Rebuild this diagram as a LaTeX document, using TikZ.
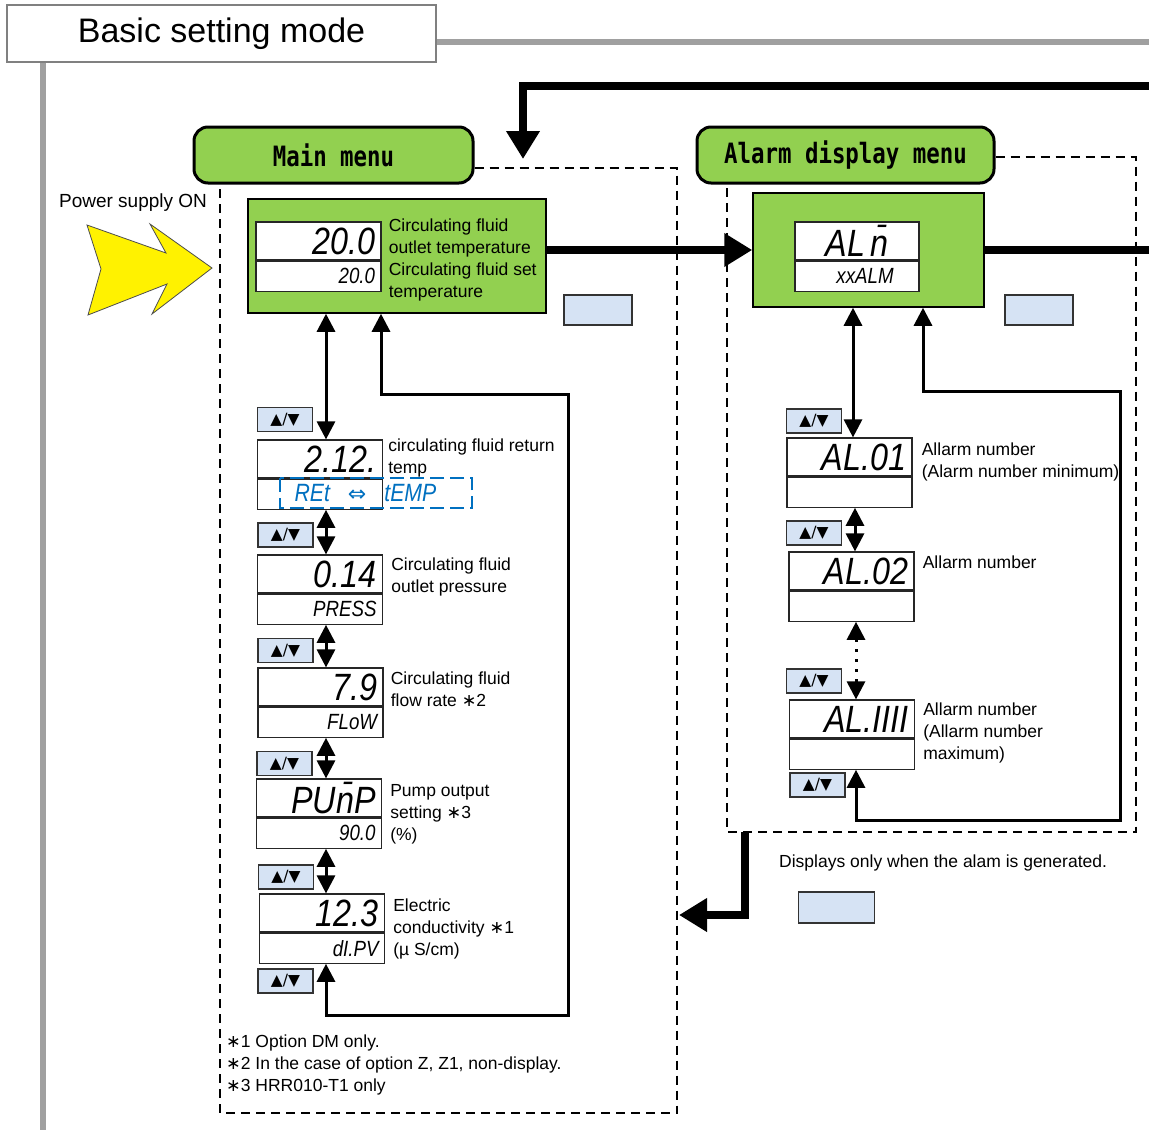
\documentclass[tikz,border=0pt]{standalone}
\usepackage{fontspec}
\usepackage{graphicx}
\setmainfont{Liberation Sans}
\newfontfamily\segfont{Liberation Sans}
\newfontfamily\menufont{DejaVu Sans Mono}
\newfontfamily\symfont{DejaVu Sans}
\usetikzlibrary{arrows.meta,positioning}
\definecolor{menugreen}{RGB}{146,208,80}
\definecolor{keyblue}{RGB}{214,227,244}
\definecolor{retblue}{RGB}{0,112,192}
\definecolor{framegray}{RGB}{160,160,160}
\newcommand{\segL}[1]{{\segfont\itshape\fontsize{38}{38}\selectfont\scalebox{0.85}[1]{#1}}}
\newcommand{\segS}[1]{{\segfont\itshape\fontsize{22}{22}\selectfont\scalebox{0.85}[1]{#1}}}
\newcommand{\segB}[1]{{\segfont\itshape\fontsize{25}{25}\selectfont\scalebox{0.85}[1]{#1}}}
\newcommand{\menutext}[1]{{\menufont\bfseries\fontsize{28}{28}\selectfont\scalebox{0.8}[1]{#1}}}
\newcommand{\nt}{{\symfont ∗}}
\begin{document}
\begin{tikzpicture}[x=1pt,y=-1pt,
  lbl/.style={anchor=north west,inner sep=0pt,align=left,font=\fontsize{17.5}{22}\selectfont},
  menubox/.style={draw,line width=3pt,fill=menugreen,rounded corners=14pt,minimum height=56pt},
  greenbox/.style={draw,line width=1.5pt,fill=menugreen},
  keybox/.style={draw=black!80,line width=1.2pt,fill=keyblue,minimum width=55pt,minimum height=24pt,inner sep=0pt,font=\symfont\fontsize{15.5}{15.5}\selectfont},
  segtop/.style={draw=black!85,line width=1.2pt,fill=white,minimum width=125pt,minimum height=38pt,inner sep=0pt},
  segbot/.style={segtop,minimum height=30pt},
  dashframe/.style={line width=1.5pt,dash pattern=on 9pt off 6pt},
  twoway/.style={line width=3pt,{Triangle[width=18pt,length=18pt]}-{Triangle[width=18pt,length=18pt]}},
  fat/.style={line width=8pt,-{Triangle[width=32pt,length=28pt]}}]
\useasboundingbox (0,0) rectangle (1149,1130);

% frame of the mode
\node[draw=gray,line width=1.2pt,fill=white,minimum width=429pt,minimum height=57pt,font=\fontsize{34}{34}\selectfont] (title) at (221.5,33.5) {Basic setting mode};
\draw[framegray,line width=6pt] (title.east |- 0,42) -- (1149,42);
\draw[framegray,line width=6pt] (title.south -| 43,0) -- (43,1130);

% menus
\node[menubox,minimum width=279pt] (mainmenu) at (333.5,155) {\menutext{Main menu}};
\node[menubox,minimum width=297pt] (almmenu) at (845.5,155) {\menutext{Alarm display menu}};
\draw[dashframe] (mainmenu.east |- 0,168) -- (677,168) -- (677,1113) -- (220,1113) -- (mainmenu.south -| 220,0);
\draw[dashframe] (almmenu.east |- 0,157) -- (1136,157) -- (1136,832) -- (727,832) -- (almmenu.south -| 727,0);

% power on
\node[font=\fontsize{19}{19}\selectfont] (power) at (133,203) {Power supply ON};
\draw[fill=yellow,draw=black!70,line width=0.8pt] (87,225) -- (166,253) -- (150,224) -- (212,268) -- (152,314) -- (167,284) -- (88,315) -- (101,269) -- cycle;

% main display
\node[greenbox,minimum width=298pt,minimum height=114pt] (mainbox) at (397,256) {};
\node[segtop] (m0-top) at (318.5,241) {};
\node[segbot,below=0pt of m0-top] (m0-bot) {};
\node[anchor=east] at ([xshift=-3pt]m0-top.east) {\segL{20.0}};
\node[anchor=east] at ([xshift=-3pt]m0-bot.east) {\segS{20.0}};
\node[lbl] at ([xshift=7pt,yshift=2.5pt]m0-top.north east) {Circulating fluid\\outlet temperature\\Circulating fluid set\\temperature};

% alarm display
\node[greenbox,minimum width=231pt,minimum height=114pt] (almbox) at (868.5,250) {};
\node[segtop,minimum width=124pt] (a0-top) at (857,241) {};
\node[segbot,minimum width=124pt,below=0pt of a0-top] (a0-bot) {};
\node at (a0-top) {\segL{AL\kern6pt\={n}}};
\node at ([xshift=8pt]a0-bot) {\segS{xxALM}};

% blank keys
\node[keybox,minimum width=68pt,minimum height=30pt] (mainkey) at (598,310) {};
\node[keybox,minimum width=68pt,minimum height=30pt] (almkey) at (1039,310) {};
\node[keybox,minimum width=76pt,minimum height=31pt] (retkey) at (836.5,907.5) {};

% up/down keys
\foreach \n/\x/\y in {k1/285/419.5,k2/285.5/535,k3/285.5/650.5,k4/284.5/763.5,k5/286/877,k6/285.5/981,q1/814/421,q2/814/533,q3/814/681,q4/817.5/785}
  \node[keybox] (\n) at (\x,\y) {▲/▼};

% item displays
\foreach \n/\x/\y in {d1/320/459,d2/320/574,d3/320.5/687,d4/319/798,d5/322/913,a1/849.5/457,a2/851.5/571,a3/852/719}
{
  \node[segtop] (\n-top) at (\x,\y) {};
  \node[segbot,below=0pt of \n-top] (\n-bot) {};
}
\node[anchor=east] at ([xshift=-3pt]d1-top.east) {\segL{2.12.}};
\node[anchor=east] at ([xshift=-3pt]d2-top.east) {\segL{0.14}};
\node[anchor=east] at ([xshift=-3pt]d2-bot.east) {\segS{PRESS}};
\node[anchor=east] at ([xshift=-3pt]d3-top.east) {\segL{7.9}};
\node[anchor=east] at ([xshift=-3pt]d3-bot.east) {\segS{FLoW}};
\node[anchor=east] at ([xshift=-3pt]d4-top.east) {\segL{PU\={n}P}};
\node[anchor=east] at ([xshift=-3pt]d4-bot.east) {\segS{90.0}};
\node[anchor=east] at ([xshift=-3pt]d5-top.east) {\segL{12.3}};
\node[anchor=east] at ([xshift=-3pt]d5-bot.east) {\segS{dI.PV}};
\node[anchor=east] at ([xshift=-3pt]a1-top.east) {\segL{AL.01}};
\node[anchor=east] at ([xshift=-3pt]a2-top.east) {\segL{AL.02}};
\node[anchor=east] at ([xshift=-3pt]a3-top.east) {\segL{AL.IIII}};
\draw[retblue,line width=2pt,dash pattern=on 14pt off 6pt] (280,478) rectangle (472,508);
\node[anchor=west,text=retblue] (ret) at (291,493) {\segB{REt}\hspace{18pt}{\symfont\fontsize{22}{22}\selectfont ⇔}\hspace{18pt}\segB{tEMP}};

\node[lbl] at ([xshift=5pt,yshift=1pt]d1-top.north east) {circulating fluid return\\temp};
\node[lbl] at ([xshift=8pt,yshift=-3.5pt]d2-top.north east) {Circulating fluid\\outlet pressure};
\node[lbl] at ([xshift=7pt,yshift=-4.5pt]d3-top.north east) {Circulating fluid\\flow rate \nt2};
\node[lbl] at ([xshift=8pt,yshift=-5.5pt]d4-top.north east) {Pump output\\setting \nt3\\(\%)};
\node[lbl] at ([xshift=8pt,yshift=-5.5pt]d5-top.north east) {Electric\\conductivity \nt1\\(µ S/cm)};
\node[lbl] at ([xshift=9pt,yshift=-5.5pt]a1-top.north east) {Allarm number\\(Alarm number minimum)};
\node[lbl] at ([xshift=8pt,yshift=-4.5pt]a2-top.north east) {Allarm number};
\node[lbl] at ([xshift=8pt,yshift=-3.5pt]a3-top.north east) {Allarm number\\(Allarm number\\maximum)};

% main menu arrows
\draw[twoway] (mainbox.south -| 326,0) -- (d1-top.north -| 326,0);
\foreach \u/\v in {d1/d2,d2/d3,d3/d4,d4/d5}
  \draw[twoway] (\u-bot.south -| 326,0) -- (\v-top.north -| 326,0);
\draw[twoway] (mainbox.south -| 381,0) -- (381,394) -- (568,394) -- (568,1015) -- (326,1015) -- (d5-bot.south -| 326,0);

% alarm menu arrows
\draw[twoway] (almbox.south -| 853,0) -- (a1-top.north -| 853,0);
\draw[twoway] (a1-bot.south -| 855,0) -- (a2-top.north -| 855,0);
\draw[twoway,dash pattern=on 3pt off 7pt] (a2-bot.south -| 856,0) -- (a3-top.north -| 856,0);
\draw[twoway] (almbox.south -| 923,0) -- (923,391) -- (1120,391) -- (1120,820) -- (856,820) -- (a3-bot.south -| 856,0);

% moves between menus
\coordinate (exitR) at (1149,250);
\coordinate (entryR) at (1149,86);
\coordinate (mainin) at (523,159);
\coordinate (almout) at (745,832);
\coordinate (mainret) at (679,915);
\draw[fat] (mainbox.east |- almbox.west) -- (almbox.west);
\draw[line width=8pt] (almbox.east) -- (exitR);
\draw[fat] (entryR) -- (mainin |- entryR) -- (mainin);
\draw[fat] (almout) -- (almout |- mainret) -- (mainret);

% notes
\node[lbl,anchor=west] (almnote) at (779,863) {Displays only when the alam is generated.};
\node[lbl] (notes) at (226,1035) {\nt1 Option DM only.\\\nt2 In the case of option Z, Z1, non-display.\\\nt3 HRR010-T1 only};
\end{tikzpicture}
\end{document}
